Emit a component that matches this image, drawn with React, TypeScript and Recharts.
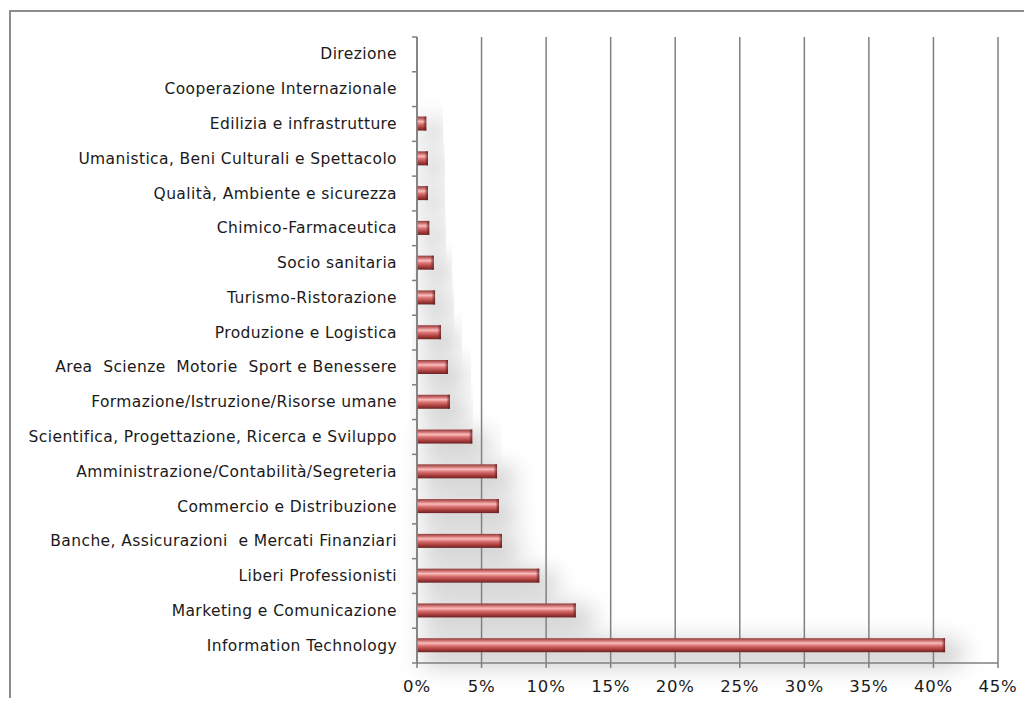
import { Bar, BarChart, CartesianGrid, XAxis, YAxis } from "recharts";

const categories = [
  "Direzione",
  "Cooperazione Internazionale",
  "Edilizia e infrastrutture",
  "Umanistica, Beni Culturali e Spettacolo",
  "Qualità, Ambiente e sicurezza",
  "Chimico-Farmaceutica",
  "Socio sanitaria",
  "Turismo-Ristorazione",
  "Produzione e Logistica",
  "Area  Scienze  Motorie  Sport e Benessere",
  "Formazione/Istruzione/Risorse umane",
  "Scientifica, Progettazione, Ricerca e Sviluppo",
  "Amministrazione/Contabilità/Segreteria",
  "Commercio e Distribuzione",
  "Banche, Assicurazioni  e Mercati Finanziari",
  "Liberi Professionisti",
  "Marketing e Comunicazione",
  "Information Technology",
];

const shares = [
  0, 0, 0.72, 0.85, 0.85, 0.95, 1.3, 1.4, 1.86, 2.4, 2.55, 4.28, 6.2, 6.35, 6.58, 9.47, 12.3, 40.9,
];

const xTicks = [0, 5, 10, 15, 20, 25, 30, 35, 40, 45];

const data = categories.map((name, i) => ({ name, value: shares[i] }));

const WIDTH = 1024;
const HEIGHT = 690;
const MARGIN = { top: 29, right: 34, left: 0, bottom: 5 };
const X_AXIS_HEIGHT = 30;
const PLOT_HEIGHT = HEIGHT - MARGIN.top - MARGIN.bottom - X_AXIS_HEIGHT;
const HALF_BAND = PLOT_HEIGHT / categories.length / 2;

const axisGray = "#7f7f7f";
const font = "'DejaVu Sans', sans-serif";

// ticks sit between categories (Excel style), so draw them half a band up
function CategoryTick(props: any) {
  const { x, y, payload, index } = props;
  const last = index === categories.length - 1;
  return (
    <g>
      <line x1={x + 3} x2={x + 8} y1={y - HALF_BAND} y2={y - HALF_BAND} stroke={axisGray} strokeWidth={1.5} />
      {last && <line x1={x + 3} x2={x + 8} y1={y + HALF_BAND} y2={y + HALF_BAND} stroke={axisGray} strokeWidth={1.5} />}
      <text
        x={x - 12}
        y={y}
        dy={5}
        textAnchor="end"
        fill="#1a1a1a"
        fontSize={15.5}
        fontFamily={font}
        letterSpacing={0.4}
        style={{ whiteSpace: "pre" }}
      >
        {payload.value}
      </text>
    </g>
  );
}

function CylinderBar(props: any) {
  const { x, y, width, height } = props;
  if (!width || width <= 0) return null;
  return (
    <g>
      <rect x={x} y={y} width={width + 10} height={height + 8} fill="#8a8a8a" filter="url(#barShadow)" opacity={0.5} />
      <rect x={x} y={y} width={width} height={height} fill="url(#barFill)" />
      <rect x={x + width - 3} y={y} width={3} height={height} fill="url(#barEnd)" />
    </g>
  );
}

export default function App() {
  return (
    <div style={{ position: "relative", width: WIDTH, height: HEIGHT, overflow: "hidden" }}>
      <div
        style={{
          position: "absolute",
          left: 1,
          top: 2,
          width: WIDTH + 20,
          height: HEIGHT + 20,
          border: "2px solid #8c8c8c",
          boxSizing: "border-box",
        }}
      />
      <div style={{ position: "absolute", left: 0, top: 0 }}>
        <BarChart
          width={WIDTH}
          height={HEIGHT}
          data={data}
          layout="vertical"
          margin={MARGIN}
          barCategoryGap={0}
        >
          <defs>
            <linearGradient id="barFill" x1="0" y1="0" x2="0" y2="1">
              <stop offset="0%" stopColor="#8e3b3b" />
              <stop offset="18%" stopColor="#cf7272" />
              <stop offset="35%" stopColor="#fbbcbc" />
              <stop offset="55%" stopColor="#d86e6e" />
              <stop offset="80%" stopColor="#a83c3c" />
              <stop offset="100%" stopColor="#6a2222" />
            </linearGradient>
            <linearGradient id="barEnd" x1="0" y1="0" x2="1" y2="0">
              <stop offset="0%" stopColor="#7a2828" stopOpacity={0.2} />
              <stop offset="100%" stopColor="#5a1a1a" stopOpacity={0.8} />
            </linearGradient>
            <filter id="barShadow" x="-30%" y="-300%" width="160%" height="700%">
              <feGaussianBlur stdDeviation="12" />
              <feOffset dx="6" dy="4" />
            </filter>
          </defs>
          <CartesianGrid horizontal={false} stroke={axisGray} strokeWidth={1.5} />
          <XAxis
            type="number"
            domain={[0, 45]}
            ticks={xTicks}
            height={X_AXIS_HEIGHT}
            tickFormatter={(v) => `${v}%`}
            axisLine={{ stroke: axisGray, strokeWidth: 1.5 }}
            tickLine={{ stroke: axisGray, strokeWidth: 1.5 }}
            tickSize={5}
            tickMargin={12}
            tick={{ fill: "#1a1a1a", fontSize: 16.5, fontFamily: font, letterSpacing: 0.8 }}
            interval={0}
          />
          <YAxis
            type="category"
            dataKey="name"
            width={417 - 8}
            axisLine={{ stroke: axisGray, strokeWidth: 1.5 }}
            tickLine={false}
            tick={<CategoryTick />}
            interval={0}
          />
          <Bar dataKey="value" barSize={14} shape={<CylinderBar />} isAnimationActive={false} />
        </BarChart>
      </div>
    </div>
  );
}
